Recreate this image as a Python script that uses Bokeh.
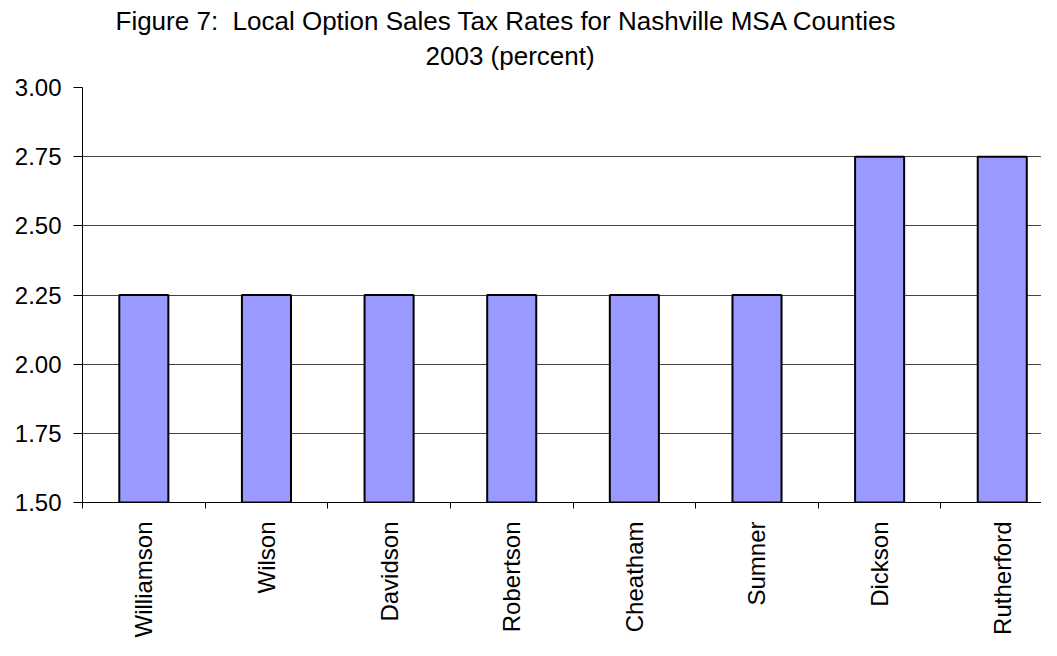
import math
from bokeh.plotting import figure
from bokeh.models import Range1d, FixedTicker, NumeralTickFormatter, Title, ColumnDataSource
from bokeh.embed import file_html
from bokeh.resources import INLINE

counties = ["Williamson", "Wilson", "Davidson", "Robertson", "Cheatham", "Sumner", "Dickson", "Rutherford"]
rates = [2.25, 2.25, 2.25, 2.25, 2.25, 2.25, 2.75, 2.75]
y_ticks = [1.50, 1.75, 2.00, 2.25, 2.50, 2.75, 3.00]
title_line1 = "Figure 7:\u00a0 Local Option Sales Tax Rates for Nashville MSA Counties"
title_line2 = "2003 (percent)"

FONT = "Liberation Sans"
Y_MIN, Y_MAX = 1.5, 3.0

xs = [i + 0.5 for i in range(len(counties))]
src = ColumnDataSource(dict(x=xs, top=rates, name=counties))

p = figure(width=1041, height=640, output_backend="svg", toolbar_location=None,
           x_range=Range1d(0, 7.82), y_range=Range1d(Y_MIN, Y_MAX),
           min_border_left=82, min_border_right=0, min_border_top=87, min_border_bottom=120)
p.outline_line_color = None
p.background_fill_color = "white"
p.border_fill_color = "white"

p.vbar(x="x", top="top", bottom=Y_MIN, width=0.4, source=src,
       fill_color="#9999FF", line_color="black", line_width=2)

# titles (first added is closest to the frame)
t2 = Title(text=title_line2, align="left", vertical_align="top", text_font=FONT,
           text_font_size="26px", text_font_style="normal", text_color="black",
           offset=343, standoff=30)
t1 = Title(text=title_line1, align="left", text_font=FONT, text_font_size="26px",
           text_font_style="normal", text_color="black", offset=33, standoff=-21)
p.add_layout(t2, "above")
p.add_layout(t1, "above")

# y axis
ya = p.yaxis[0]
ya.ticker = FixedTicker(ticks=y_ticks)
ya.formatter = NumeralTickFormatter(format="0.00")
ya.major_label_text_font = FONT
ya.major_label_text_font_size = "24px"
ya.major_label_text_color = "black"
ya.axis_line_color = "black"
ya.major_tick_line_color = "black"
ya.major_tick_out = 9
ya.major_tick_in = 0
ya.minor_tick_line_color = None
ya.major_label_standoff = 12

# x axis: labels at category centres, tick marks at category boundaries
xa = p.xaxis[0]
xa.ticker = FixedTicker(ticks=xs, minor_ticks=list(range(len(counties) + 1)))
xa.major_label_overrides = {x: n for x, n in zip(xs, counties)}
xa.major_label_orientation = math.pi / 2
xa.major_label_text_font = FONT
xa.major_label_text_font_size = "24px"
xa.major_label_text_color = "black"
xa.axis_line_color = "black"
xa.major_tick_line_color = None
xa.major_tick_out = 0
xa.major_tick_in = 0
xa.minor_tick_line_color = "black"
xa.minor_tick_out = 6
xa.minor_tick_in = 0
xa.major_label_standoff = 13

p.xgrid.grid_line_color = None
p.ygrid.ticker = FixedTicker(ticks=y_ticks)
p.ygrid.grid_line_color = "#444444"
p.ygrid.grid_line_width = 1

open("out.html", "w").write(file_html(p, INLINE))
